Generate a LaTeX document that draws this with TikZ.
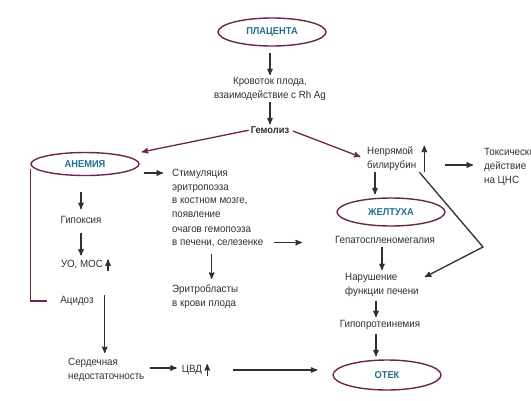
\documentclass[tikz,border=0pt]{standalone}
\usepackage{fontspec}
\setmainfont{Liberation Sans}[FakeStretch=0.93]
\usetikzlibrary{arrows,positioning,shapes.geometric}

\definecolor{plum}{HTML}{6E2350}
\definecolor{tealblue}{HTML}{22708C}
\definecolor{ink}{HTML}{303030}

\begin{document}
\begin{tikzpicture}
[
	              x = 1pt,
	              y = -1pt,
	           ->, >= stealth',
	every node/.style = { font=\fontsize{10.5}{14}\selectfont, text=ink, inner sep=1pt },
	     oval/.style = { draw=plum, ellipse, line width=1.4pt, inner sep=0pt,
	                     minimum width=108pt, minimum height=28pt,
	                     font=\bfseries\fontsize{10}{11}\selectfont, text=tealblue },
	     link/.style = { draw=ink, line width=1.3pt },
	      hit/.style = { draw=plum, line width=1.3pt }
]
	\clip (0,0) rectangle (531,400);

	% top
	% nodes
	\node (plac)  at (272,32)  [oval]                 {ПЛАЦЕНТА};
	\node (krov)  at (270,89)  [align=center]         {Кровоток плода,\\взаимодействие с Rh Ag};
	\node (gem)   at (270,130) [font=\bfseries\fontsize{10}{11}\selectfont] {Гемолиз};

	% edges
	\draw [link, shorten <=6pt, shorten >=1pt] (plac.south -| krov) -- (krov);
	\draw [link, shorten >=1pt] (krov) -- (gem);

	% left branch
	% nodes
	\node (anem)  at (85,164)  [oval, minimum height=23pt] {АНЕМИЯ};
	\node (gip)   at (81,220)                          {Гипоксия};
	\node (uo)    at (82,265)                          {УО, МОС};
	\node (acid)  at (77,301)                          {Ацидоз};
	\node (serd)  at (67,370)  [anchor=west, align=left] {Сердечная\\недостаточность};
	\node (cvd)   at (192,370)                         {ЦВД};

	% edges
	\draw [hit, shorten <=1pt] (gem.west) -- ([shift={(2,-12)}]anem.east);
	\draw [hit, -, shorten >=12pt] ([yshift=-5pt]anem.west) |- (acid.west);
	\draw [link, shorten <=16pt, shorten >=6pt] (gip |- anem.south) -- (gip.north);
	\draw [link, shorten <=8pt, shorten >=4pt] (gip.south) -- (gip.south |- uo.north);
	\draw [link] ([xshift=4pt]uo.south east) -- ([xshift=4pt]uo.north east);
	\draw [link, shorten >=4pt] ([xshift=10pt]acid.north east) -- ([xshift=10pt]acid.north east |- serd.north);
	\draw [link, shorten <=4pt, shorten >=4pt] ([yshift=2pt]serd.east) -- ([yshift=2pt]serd.east -| cvd.west);
	\draw [link] ([xshift=4pt]cvd.south east) -- ([xshift=4pt]cvd.north east);

	% middle branch
	% nodes
	\node (stim)  at (171,208) [anchor=west, align=left]
	      {Стимуляция\\эритропоэза\\в костном мозге,\\появление\\очагов гемопоэза\\в печени, селезенке};
	\node (erit)  at (171,297) [anchor=west, align=left] {Эритробласты\\в крови плода};

	% edges
	\draw [link, shorten <=4pt, shorten >=8pt] ([yshift=-9pt]anem.east) -- ([yshift=-9pt]anem.east -| stim.west);
	\draw [link, shorten <=5pt, shorten >=5pt] ([xshift=-6pt]stim.south) -- ([xshift=-6pt]stim.south |- erit.north);

	% right branch
	% nodes
	\node (bil)   at (366,159) [anchor=west, align=left] {Непрямой\\билирубин};
	\node (tox)   at (483,167) [anchor=west, align=left] {Токсическое\\действие\\на ЦНС};
	\node (zhel)  at (391,212) [oval]                   {ЖЕЛТУХА};
	\node (gepat) at (385,240)                          {Гепатоспленомегалия};
	\node (nar)   at (344,285) [anchor=west, align=left] {Нарушение\\функции печени};
	\node (gipo)  at (380,325)                          {Гипопротеинемия};
	\node (otek)  at (387,375) [oval, minimum height=30pt] {ОТЕК};
	\coordinate (knee) at (483,247);

	% edges
	\draw [hit, shorten <=3pt, shorten >=6pt] (gem.east) -- (bil.west);
	\draw [link, shorten >=3pt] ([xshift=9pt]bil.south west) -- ([xshift=9pt]bil.south west |- zhel.north);
	\draw [link] ([xshift=7pt]bil.south east) -- ([xshift=7pt]bil.north east);
	\draw [link, shorten <=28pt, shorten >=10pt] ([yshift=-6pt]bil.east) -- ([yshift=-6pt]bil.east -| tox.west);
	\draw [link, shorten <=10pt, shorten >=32pt] ([yshift=6pt]stim.south east) -- ([yshift=6pt]stim.south east -| gepat.west);
	\draw [link, shorten <=2pt, shorten >=2pt] ([xshift=-3pt]gepat.south) -- ([xshift=-3pt]gepat.south |- nar.north);
	\draw [link] ([xshift=2pt]bil.south east) -- (knee) -- ([shift={(5,-8)}]nar.east);
	\draw [link, shorten <=3pt, shorten >=2pt] ([xshift=32pt]nar.south west) -- ([xshift=32pt]nar.south west |- gipo.north);
	\draw [link, shorten <=3pt, shorten >=3pt] ([xshift=32pt]nar.south west |- gipo.south) -- ([xshift=32pt]nar.south west |- otek.north);
	\draw [link, shorten <=30pt, shorten >=15pt] (cvd.east) -- (cvd.east -| otek.west);
\end{tikzpicture}
\end{document}
